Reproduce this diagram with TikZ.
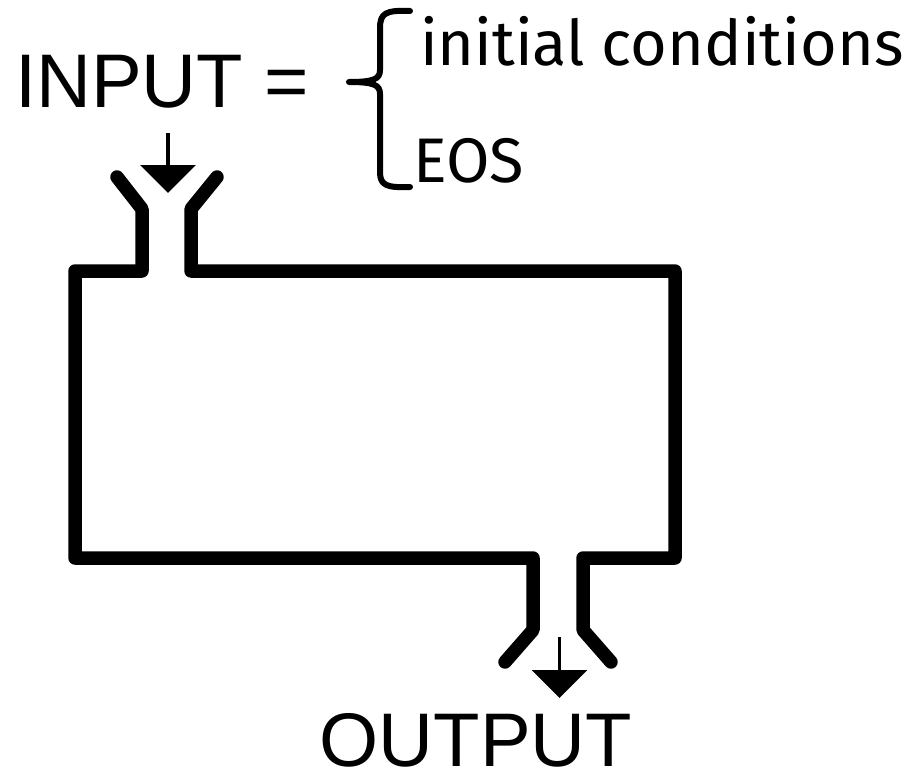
\documentclass[tikz,border=0pt]{standalone}
\usepackage{fontspec}
\setmainfont{Liberation Sans}
\newfontfamily\firafont{Fira Sans}
\usepackage{tikz}
\usetikzlibrary{arrows.meta}

\begin{document}
\begin{tikzpicture}[x=1pt,y=-1pt,
      every node/.style={inner sep=0pt,outer sep=0pt},
      big/.style={font=\fontsize{76}{76}\selectfont},
      item/.style={font=\firafont\fontsize{63}{63}\selectfont},
      wall/.style={line width=13.5pt,line join=round,line cap=round},
      brace/.style={line width=6pt,line cap=round,line join=round},
      feed/.style={-{Triangle[length=28pt,width=55pt]},line width=3.5pt},
    ]
    \useasboundingbox (0,0) rectangle (917,773);

    % Top: the input and its list
    \node[big,anchor=base west] (input) at (15,108) {INPUT =};
    \node[item,anchor=base west] (init) at (420,66) {initial conditions};
    \node[item,anchor=base west] (eos) at (413,182) {EOS};
    \draw[brace] (410,11) .. controls (386,10) and (380,13) .. (380,28)
        -- (380,70) .. controls (380,79) and (374,82) .. (349,82)
        .. controls (374,82) and (380,85) .. (380,94)
        -- (380,172) .. controls (380,185) and (386,188) .. (410,187);

    % Vessel: left wall and right wall
    \draw[wall] (117,177) -- (142,209) -- (142,271) -- (75,271) -- (75,558)
        -- (533,558) -- (533,630) -- (505,662);
    \draw[wall] (217,177) -- (191,209) -- (191,271) -- (675,271) -- (675,558)
        -- (583,558) -- (583,630) -- (611,662);

    % Bottom: the output
    \node[big,anchor=base] (output) at (476,766) {OUTPUT};

    % Feed arrows in and out
    \coordinate (inTop) at (168,133);
    \coordinate (inTip) at (168,193);
    \coordinate (outTop) at (559.5,637);
    \coordinate (outTip) at (559.5,698);
    \draw[feed] (inTop) -- (inTip);
    \draw[feed] (outTop) -- (outTip);

  \end{tikzpicture}
\end{document}
